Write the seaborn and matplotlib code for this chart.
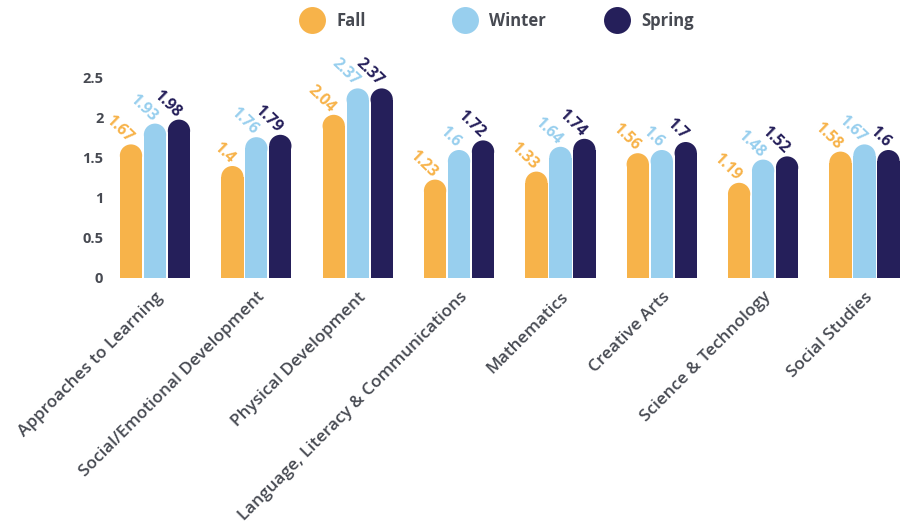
import matplotlib
matplotlib.use("Agg")
import matplotlib.pyplot as plt
from matplotlib.patches import Ellipse
from matplotlib.lines import Line2D
import seaborn as sns
import pandas as pd

categories = ["Approaches to Learning", "Social/Emotional Development", "Physical Development",
              "Language, Literacy & Communications", "Mathematics", "Creative Arts",
              "Science & Technology", "Social Studies"]
seasons = ["Fall", "Winter", "Spring"]
fall = [1.67, 1.4, 2.04, 1.23, 1.33, 1.56, 1.19, 1.58]
winter = [1.93, 1.76, 2.37, 1.6, 1.64, 1.6, 1.48, 1.67]
spring = [1.98, 1.79, 2.37, 1.72, 1.74, 1.7, 1.52, 1.6]
value_labels = {
    "Fall": ["1.67", "1.4", "2.04", "1.23", "1.33", "1.56", "1.19", "1.58"],
    "Winter": ["1.93", "1.76", "2.37", "1.6", "1.64", "1.6", "1.48", "1.67"],
    "Spring": ["1.98", "1.79", "2.37", "1.72", "1.74", "1.7", "1.52", "1.6"],
}
yticks = [0, 0.5, 1, 1.5, 2, 2.5]
ytick_labels = ["0", "0.5", "1", "1.5", "2", "2.5"]
colors = {"Fall": "#F7B34A", "Winter": "#98CFEE", "Spring": "#251F5A"}

rows = []
for s, vals in zip(seasons, [fall, winter, spring]):
    for c, v in zip(categories, vals):
        rows.append({"category": c, "season": s, "value": v})
df = pd.DataFrame(rows)

sns.set_theme(style="white")
plt.rcParams["font.family"] = ["Open Sans", "DejaVu Sans"]
text_gray = "#474a52"

fig = plt.figure(figsize=(9.09, 5.27), dpi=100)
ax = fig.add_axes([0.1259, 0.4725, 0.8697, 0.3795])

sns.barplot(data=df, x="category", y="value", hue="season", order=categories,
            hue_order=seasons, palette=colors, width=0.71, gap=0.07,
            legend=False, ax=ax, saturation=1, linewidth=0)

ax.set_xlim(-0.4, 7.4)
ax.set_ylim(0, 2.5)

# pixel scale for rounded tops
p0 = ax.transData.transform((0, 0))
p1 = ax.transData.transform((1, 1))
px_x = p1[0] - p0[0]
px_y = p1[1] - p0[1]

for season, cont in zip(seasons, ax.containers):
    for rect, lab in zip(cont.patches, value_labels[season]):
        x, w, h = rect.get_x(), rect.get_width(), rect.get_height()
        ry = (w * px_x / 2) / px_y
        rect.set_height(h - ry)
        ax.add_patch(Ellipse((x + w / 2, h - ry), w, 2 * ry,
                             facecolor=colors[season], edgecolor="none"))
        ax.annotate(lab, (x + w / 2, h), xytext=(-2.5, 1.5), textcoords="offset points",
                    ha="right", va="baseline", rotation=-44, rotation_mode="anchor",
                    color=colors[season], fontsize=11.3, fontweight="bold",
                    annotation_clip=False)

ax.set_yticks(yticks)
ax.set_yticklabels(ytick_labels, fontsize=10.5, fontweight="bold", color=text_gray)
ax.set_xticks(range(len(categories)))
ax.set_xticklabels(categories, rotation=45, ha="right", rotation_mode="anchor",
                   fontsize=12.3, fontweight="semibold", color=text_gray)
ax.tick_params(axis="y", length=0, pad=8)
ax.tick_params(axis="x", length=0, pad=8)
ax.set_xlabel("")
ax.set_ylabel("")
for sp in ax.spines.values():
    sp.set_visible(False)

# legend: one entry per season, placed at fixed positions
fs = 12
hl = 1.5
half_handle_px = hl * fs * 100 / 72 / 2
for s, cx in zip(seasons, [312, 465, 617]):
    h = Line2D([], [], marker="o", linestyle="none", markersize=19.4,
               markerfacecolor=colors[s], markeredgecolor="none")
    leg = fig.legend([h], [s], loc="center left",
                     bbox_to_anchor=((cx - half_handle_px) / 909, 1 - 21 / 527),
                     frameon=False, borderpad=0, borderaxespad=0, handlelength=hl,
                     handletextpad=0.69, prop={"size": fs, "weight": "bold"})
    for t in leg.get_texts():
        t.set_color(text_gray)

fig.savefig("out.png", dpi=100)
